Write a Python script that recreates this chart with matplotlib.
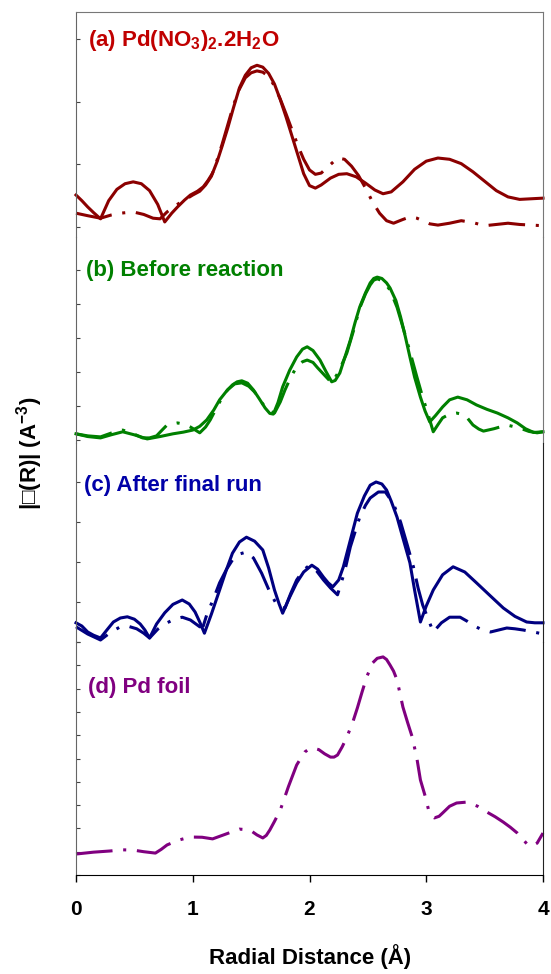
import matplotlib
matplotlib.use("Agg")
from matplotlib import pyplot as plt

"""
FT-EXAFS magnitude, four stacked panels: experiment (solid) + fit (dash-dot)
"""

plt.rcParams['font.family'] = ['Liberation Sans', 'DejaVu Sans']
plt.rcParams['font.weight'] = 'bold'
plt.rcParams['mathtext.fontset'] = 'custom'
plt.rcParams['mathtext.rm'] = 'Liberation Sans:bold'
plt.rcParams['mathtext.bf'] = 'Liberation Sans:bold'
plt.rcParams['mathtext.default'] = 'bf'

# (a) Pd(NO3)2.2H2O
a_exp_r = [0, 0.05, 0.10, 0.15, 0.21, 0.28, 0.35, 0.42, 0.49, 0.56, 0.63, 0.70, 0.76, 0.82,
           0.87, 0.93, 0.98, 1.04, 1.09, 1.13, 1.17, 1.21, 1.25, 1.30, 1.35, 1.40, 1.45,
           1.50, 1.55, 1.60, 1.65, 1.70, 1.75, 1.80, 1.85, 1.90, 1.95, 2.00, 2.05, 2.10,
           2.18, 2.25, 2.32, 2.40, 2.48, 2.56, 2.63, 2.70, 2.80, 2.90, 3.00, 3.10, 3.20,
           3.30, 3.40, 3.50, 3.60, 3.70, 3.80, 3.90, 4.00]
a_exp = [0.51, 0.42, 0.32, 0.23, 0.13, 0.42, 0.60, 0.69, 0.72, 0.69, 0.58, 0.36, 0.08, 0.22,
         0.32, 0.43, 0.51, 0.57, 0.64, 0.74, 0.86, 1.05, 1.28, 1.58, 1.91, 2.22, 2.42,
         2.54, 2.58, 2.55, 2.45, 2.28, 2.03, 1.75, 1.45, 1.15, 0.85, 0.66, 0.62, 0.67,
         0.78, 0.84, 0.85, 0.80, 0.70, 0.59, 0.53, 0.56, 0.72, 0.92, 1.05, 1.10, 1.08,
         1.01, 0.88, 0.73, 0.58, 0.48, 0.44, 0.45, 0.46]
a_fit_r = [0, 0.10, 0.21, 0.30, 0.38, 0.49, 0.58, 0.66, 0.72, 0.78, 0.85, 0.93, 1.00, 1.06,
           1.11, 1.16, 1.20, 1.25, 1.30, 1.35, 1.40, 1.45, 1.50, 1.55, 1.60, 1.65, 1.70,
           1.75, 1.80, 1.85, 1.90, 1.95, 2.00, 2.05, 2.10, 2.17, 2.24, 2.30, 2.36, 2.42,
           2.48, 2.54, 2.60, 2.66, 2.72, 2.80, 2.86, 2.92, 2.97, 3.03, 3.10, 3.20, 3.30,
           3.40, 3.50, 3.60, 3.70, 3.80, 3.90, 4.00]
a_fit = [0.22, 0.18, 0.14, 0.19, 0.22, 0.24, 0.20, 0.14, 0.13, 0.24, 0.34, 0.43, 0.51, 0.57,
         0.67, 0.81, 1.02, 1.31, 1.63, 1.95, 2.20, 2.38, 2.46, 2.49, 2.47, 2.40, 2.25,
         2.04, 1.80, 1.55, 1.30, 1.08, 0.91, 0.84, 0.86, 0.98, 1.10, 1.08, 0.97, 0.82,
         0.62, 0.40, 0.22, 0.10, 0.06, 0.12, 0.16, 0.14, 0.10, 0.05, 0.03, 0.06, 0.10,
         0.07, 0.02, 0.04, 0.06, 0.04, 0.03, 0.02]

# (b) Before reaction
b_exp_r = [0, 0.10, 0.21, 0.30, 0.40, 0.50, 0.61, 0.72, 0.83, 0.92, 1.00, 1.06, 1.12, 1.18,
           1.23, 1.29, 1.34, 1.38, 1.42, 1.47, 1.52, 1.57, 1.62, 1.66, 1.69, 1.73, 1.77,
           1.83, 1.89, 1.94, 1.98, 2.03, 2.09, 2.14, 2.19, 2.22, 2.26, 2.30, 2.35, 2.39,
           2.43, 2.48, 2.52, 2.55, 2.58, 2.62, 2.66, 2.69, 2.74, 2.78, 2.82, 2.86, 2.90,
           2.95, 2.99, 3.03, 3.08, 3.14, 3.20, 3.27, 3.35, 3.43, 3.52, 3.61, 3.70, 3.78,
           3.85, 3.92, 4.00]
b_exp = [0.18, 0.10, 0.06, 0.15, 0.24, 0.15, 0.03, 0.10, 0.18, 0.23, 0.29, 0.40, 0.59, 0.88,
         1.18, 1.44, 1.62, 1.71, 1.74, 1.67, 1.47, 1.21, 0.94, 0.78, 0.76, 1.10, 1.56,
         2.05, 2.44, 2.67, 2.74, 2.63, 2.35, 2.02, 1.71, 1.75, 1.97, 2.40, 2.94, 3.45,
         3.91, 4.33, 4.62, 4.75, 4.79, 4.75, 4.62, 4.47, 4.10, 3.62, 3.05, 2.44, 1.85,
         1.26, 0.85, 0.53, 0.72, 0.97, 1.18, 1.26, 1.18, 1.03, 0.90, 0.79, 0.65, 0.50,
         0.33, 0.22, 0.24]
b_fit_r = [0, 0.10, 0.21, 0.30, 0.40, 0.48, 0.57, 0.63, 0.69, 0.74, 0.78, 0.87, 0.93, 0.98,
           1.06, 1.11, 1.15, 1.20, 1.25, 1.30, 1.36, 1.42, 1.48, 1.53, 1.58, 1.64, 1.70,
           1.75, 1.79, 1.84, 1.89, 1.94, 1.98, 2.03, 2.07, 2.13, 2.19, 2.25, 2.32, 2.38,
           2.43, 2.48, 2.52, 2.55, 2.58, 2.63, 2.69, 2.75, 2.80, 2.86, 2.92, 2.97, 3.01,
           3.06, 3.10, 3.14, 3.20, 3.26, 3.33, 3.40, 3.45, 3.49, 3.58, 3.69, 3.80, 3.88,
           3.95, 4.00]
b_fit = [0.18, 0.12, 0.09, 0.20, 0.29, 0.20, 0.06, 0.06, 0.12, 0.30, 0.44, 0.50, 0.46, 0.38,
         0.21, 0.38, 0.59, 0.92, 1.24, 1.48, 1.65, 1.68, 1.58, 1.41, 1.15, 0.88, 0.79,
         1.12, 1.47, 1.85, 2.15, 2.30, 2.35, 2.28, 2.12, 1.90, 1.68, 2.00, 2.56, 3.25,
         3.88, 4.30, 4.56, 4.70, 4.74, 4.68, 4.41, 3.90, 3.32, 2.60, 1.85, 1.25, 0.82,
         0.24, 0.45, 0.65, 0.76, 0.79, 0.74, 0.44, 0.32, 0.26, 0.33, 0.44, 0.35, 0.25,
         0.21, 0.24]

# (c) After final run
c_exp_r = [0, 0.05, 0.10, 0.15, 0.21, 0.27, 0.32, 0.38, 0.44, 0.50, 0.55, 0.59, 0.63, 0.69,
           0.76, 0.83, 0.91, 0.97, 1.02, 1.06, 1.10, 1.16, 1.23, 1.29, 1.34, 1.40, 1.46,
           1.53, 1.60, 1.65, 1.70, 1.74, 1.77, 1.83, 1.89, 1.95, 2.02, 2.07, 2.12, 2.16,
           2.20, 2.25, 2.29, 2.35, 2.41, 2.47, 2.52, 2.57, 2.62, 2.66, 2.70, 2.75, 2.80,
           2.86, 2.90, 2.95, 3.00, 3.06, 3.14, 3.23, 3.33, 3.43, 3.55, 3.66, 3.76, 3.86,
           3.93, 4.00]
c_exp = [0.48, 0.40, 0.25, 0.17, 0.10, 0.32, 0.50, 0.60, 0.63, 0.57, 0.45, 0.30, 0.10, 0.45,
         0.73, 0.94, 1.05, 0.95, 0.75, 0.50, 0.22, 0.70, 1.30, 1.82, 2.22, 2.50, 2.62,
         2.52, 2.30, 1.85, 1.30, 0.95, 0.72, 1.12, 1.48, 1.75, 1.92, 1.82, 1.62, 1.48,
         1.38, 1.55, 1.88, 2.55, 3.22, 3.65, 3.92, 4.00, 3.95, 3.80, 3.52, 3.12, 2.60,
         1.98, 1.30, 0.50, 0.90, 1.30, 1.68, 1.88, 1.75, 1.48, 1.15, 0.85, 0.64, 0.50,
         0.48, 0.48]
c_fit_r = [0, 0.10, 0.21, 0.30, 0.38, 0.44, 0.52, 0.58, 0.63, 0.70, 0.78, 0.85, 0.91, 0.98,
           1.06, 1.09, 1.12, 1.18, 1.23, 1.29, 1.34, 1.40, 1.46, 1.52, 1.59, 1.66, 1.73,
           1.79, 1.84, 1.89, 1.95, 2.00, 2.06, 2.12, 2.18, 2.24, 2.30, 2.35, 2.43, 2.48,
           2.52, 2.59, 2.65, 2.72, 2.78, 2.84, 2.89, 2.93, 2.97, 3.02, 3.06, 3.13, 3.20,
           3.29, 3.35, 3.40, 3.48, 3.55, 3.62, 3.69, 3.76, 3.83, 3.92, 4.00]
c_fit = [0.38, 0.20, 0.05, 0.25, 0.38, 0.40, 0.33, 0.22, 0.10, 0.32, 0.48, 0.58, 0.62, 0.55,
         0.38, 0.40, 0.68, 1.10, 1.48, 1.82, 2.05, 2.20, 2.25, 2.10, 1.72, 1.25, 0.88,
         0.85, 1.22, 1.55, 1.80, 1.92, 1.78, 1.55, 1.35, 1.18, 1.75, 2.38, 3.12, 3.42,
         3.60, 3.75, 3.75, 3.45, 3.00, 2.40, 1.88, 1.35, 0.92, 0.55, 0.25, 0.48, 0.62,
         0.62, 0.52, 0.42, 0.30, 0.25, 0.30, 0.35, 0.33, 0.30, 0.25, 0.20]

# (d) Pd foil
d_fit_r = [0, 0.15, 0.29, 0.40, 0.49, 0.58, 0.68, 0.73, 0.78, 0.88, 0.98, 1.08, 1.17, 1.28,
           1.40, 1.49, 1.55, 1.60, 1.63, 1.66, 1.70, 1.75, 1.82, 1.89, 1.93, 1.96, 2.00,
           2.03, 2.08, 2.13, 2.18, 2.21, 2.24, 2.28, 2.32, 2.37, 2.41, 2.45, 2.49, 2.54,
           2.58, 2.63, 2.66, 2.69, 2.72, 2.75, 2.80, 2.84, 2.88, 2.92, 2.95, 2.99, 3.02,
           3.05, 3.07, 3.11, 3.14, 3.20, 3.26, 3.35, 3.44, 3.52, 3.59, 3.66, 3.72, 3.78,
           3.83, 3.87, 3.91, 3.95, 4.00]
d_fit = [0.90, 0.98, 1.03, 1.08, 1.07, 1.00, 0.94, 1.10, 1.29, 1.50, 1.63, 1.62, 1.55, 1.75,
         1.97, 1.93, 1.72, 1.59, 1.70, 1.93, 2.30, 2.79, 3.80, 4.72, 5.05, 5.28, 5.42,
         5.45, 5.38, 5.20, 5.06, 5.06, 5.15, 5.50, 5.92, 6.55, 7.17, 7.85, 8.50, 9.10,
         9.30, 9.36, 9.25, 9.01, 8.75, 8.37, 7.21, 6.55, 5.92, 5.00, 4.08, 3.40, 2.79,
         2.52, 2.45, 2.52, 2.66, 2.95, 3.09, 3.13, 2.95, 2.70, 2.50, 2.27, 2.05, 1.80,
         1.52, 1.29, 1.25, 1.37, 1.80]

labels = [r'(a) Pd(NO$_3$)$_2$.2H$_2$O', '(b) Before reaction', '(c) After final run', '(d) Pd foil']
line_colors = ['#8b0000', '#008000', '#000080', '#800080']
text_colors = ['#c00000', '#008000', '#0000a8', '#800080']

# panel pixel bounds (top, bottom) in a 974 px tall figure
bounds = [(12, 237), (237, 443), (443, 642), (642, 875)]
ylims = [(-0.16, 3.43), (-0.09, 5.97), (0, 4.975), (0, 10)]
yticks = [range(0, 4), range(0, 6), range(0, 5), range(0, 11)]
label_pos = [(0.026, 0.849), (0.021, 0.811), (0.017, 0.759), (0.026, 0.781)]

series = [
    [(a_exp_r, a_exp), (a_fit_r, a_fit)],
    [(b_exp_r, b_exp), (b_fit_r, b_fit)],
    [(c_exp_r, c_exp), (c_fit_r, c_fit)],
    [(None, None), (d_fit_r, d_fit)],
]

fig = plt.figure(figsize=(5.51, 9.74), dpi=100)
H = 974.0
left = 76 / 551.0
width = 467 / 551.0

axes = []
for i in range(4):
    top, bot = bounds[i]
    ax = fig.add_axes([left, 1 - bot / H, width, (bot - top) / H])
    (xe, ye), (xf, yf) = series[i]
    if xe is not None:
        ax.plot(xe, ye, color=line_colors[i], lw=2.2, solid_joinstyle='round', clip_on=False)
    ax.plot(xf, yf, color=line_colors[i], lw=2.2, dashes=(12, 3.5, 1, 3.5), clip_on=False)
    ax.set_xlim(0, 4)
    ax.set_ylim(*ylims[i])
    ax.set_yticks(list(yticks[i]))
    ax.tick_params(axis='y', direction='in', length=3, width=0.8, labelleft=False,
                   color='#444444')
    ax.text(label_pos[i][0], label_pos[i][1], labels[i], transform=ax.transAxes,
            color=text_colors[i], fontsize=16, fontweight='bold', ha='left', va='baseline')
    spine_col = '#777777' if i < 2 else '#222222'
    ax.spines['left'].set_color('#666666')
    ax.spines['right'].set_color(spine_col)
    ax.spines['top'].set_visible(i == 0)
    ax.spines['top'].set_color('#777777')
    ax.spines['bottom'].set_visible(i == 3)
    ax.patch.set_alpha(0)
    if i < 3:
        ax.tick_params(axis='x', bottom=False, labelbottom=False)
    else:
        ax.set_xticks([0, 1, 2, 3, 4])
        ax.tick_params(axis='x', direction='out', length=5, width=1, labelsize=15, pad=13)
        for t in ax.get_xticklabels():
            t.set_fontweight('bold')
    axes.append(ax)

fig.text(310 / 551.0, 1 - 957 / H, 'Radial Distance (\u00c5)', ha='center', va='center',
         fontsize=16, fontweight='bold')
fig.text(30 / 551.0, 1 - 453 / H, '|\u25a1(R)| (A$^{-3}$)', rotation=90, ha='center',
         va='center', fontsize=16, fontweight='bold')

fig.savefig('out.png', dpi=100)
